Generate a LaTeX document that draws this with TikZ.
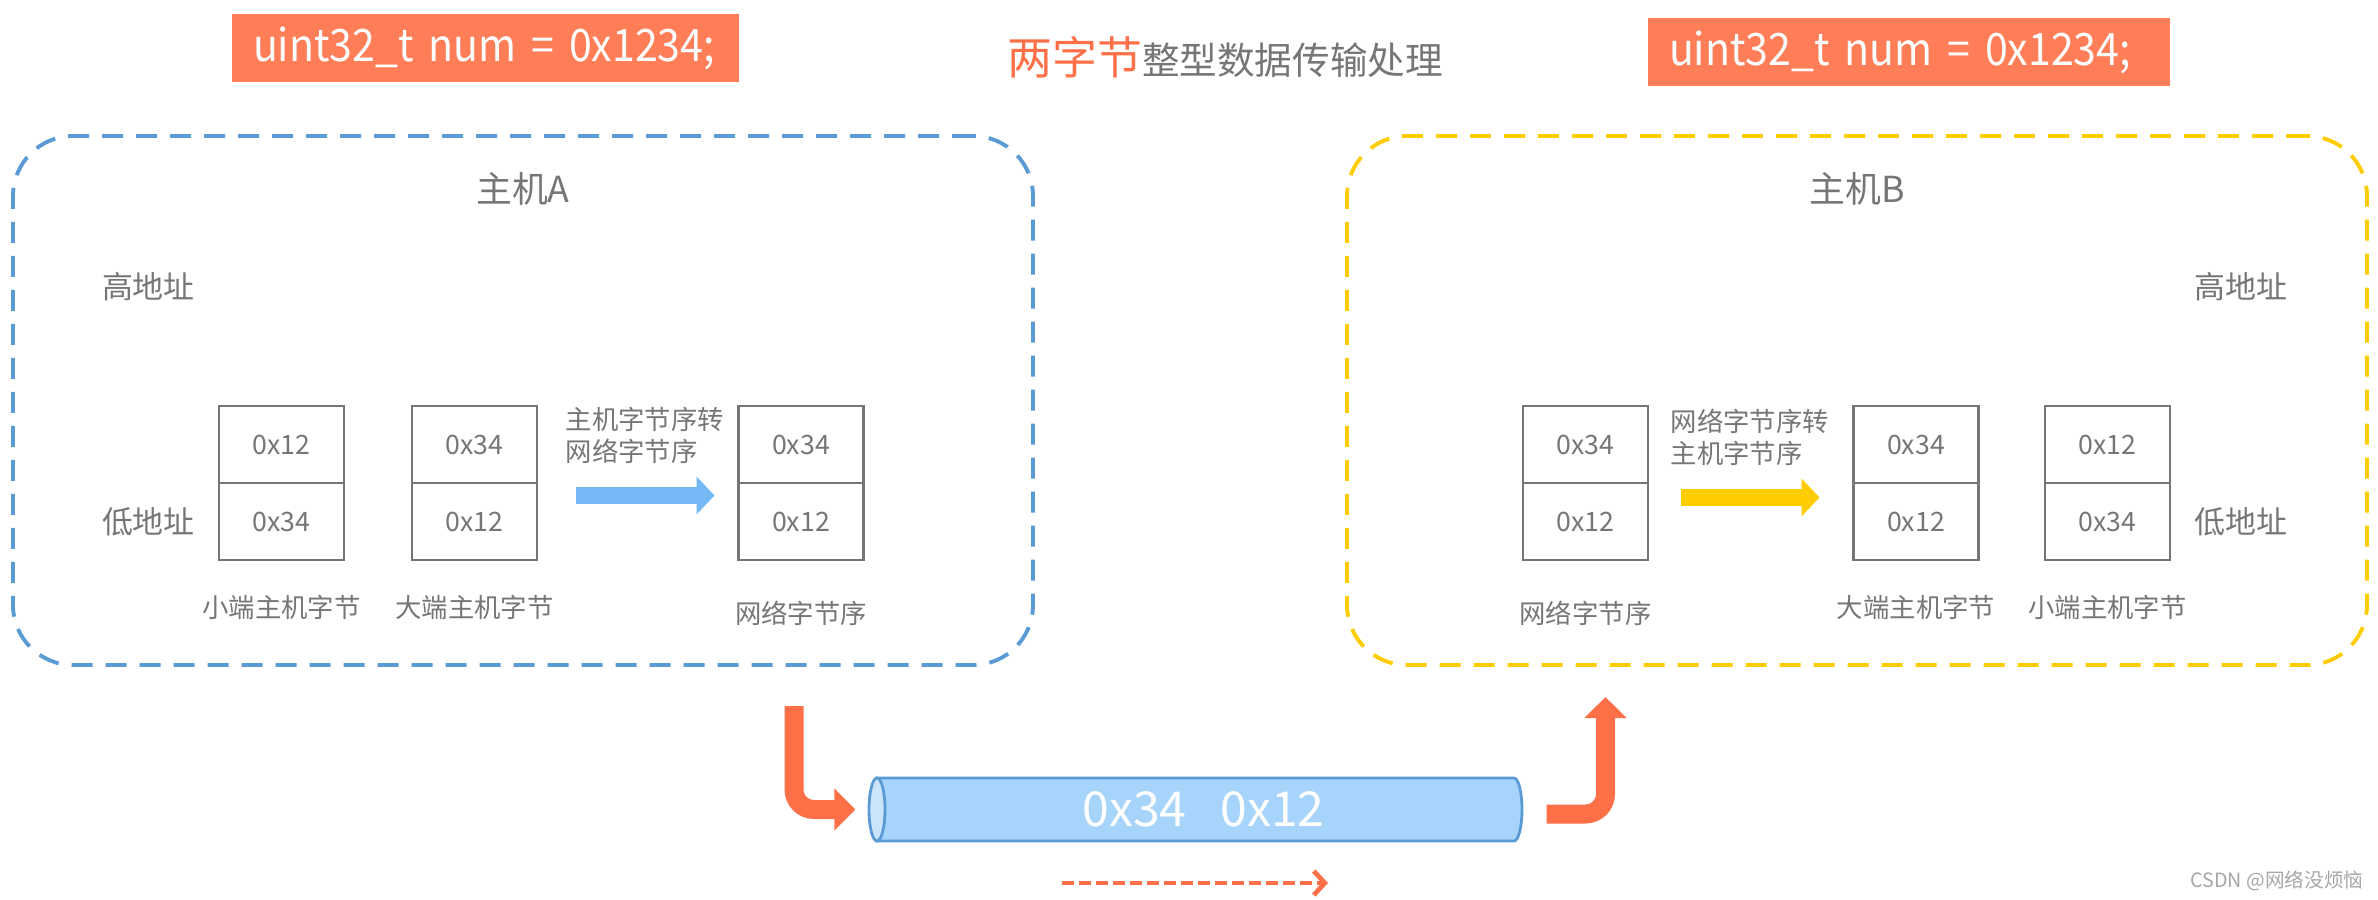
\documentclass[tikz,border=0pt]{standalone}
\usepackage{fontspec}
\setmainfont{Noto Sans CJK SC}
\newfontfamily\codefont[FakeStretch=0.92]{Noto Sans CJK SC}
\usetikzlibrary{positioning,arrows.meta}
\definecolor{codeorange}{RGB}{255,125,87}
\definecolor{arrorange}{RGB}{255,112,72}
\definecolor{hostblue}{RGB}{91,155,213}
\definecolor{hostgold}{RGB}{255,204,0}
\definecolor{convblue}{RGB}{116,185,245}
\definecolor{pipeblue}{RGB}{166,212,250}
\definecolor{pipeend}{RGB}{204,228,250}
\definecolor{txtgray}{RGB}{118,118,118}
\tikzset{
  codebox/.style={fill=codeorange,text=white,font=\codefont\fontsize{12.7pt}{15pt}\selectfont,inner xsep=2.1mm,minimum height=6.8mm,align=left},
  hostbox/.style={dash pattern=on 2.1mm off 1.3mm,line width=1.1pt,rounded corners=6mm,minimum width=102mm,minimum height=52.9mm},
  hostname/.style={text=txtgray,inner sep=0pt,font=\fontsize{10.2pt}{12pt}\selectfont},
  cell/.style={draw=txtgray,line width=0.8pt,minimum width=12.5mm,minimum height=7.7mm,inner sep=0pt,outer sep=0pt,text=txtgray,font=\fontsize{7.6pt}{9pt}\selectfont},
  lbl/.style={text=txtgray,inner sep=0pt,font=\fontsize{7.5pt}{9.1pt}\selectfont},
  addr/.style={text=txtgray,inner sep=0pt,font=\fontsize{8.8pt}{10pt}\selectfont},
  conv/.style={line width=1.7mm,-{Triangle[length=1.8mm,width=3.7mm]}},
  bigarr/.style={arrorange,line width=1.9mm,rounded corners=2mm,-{Triangle[length=2.1mm,width=4.1mm]}}
}
\begin{document}
\begin{tikzpicture}[x=0.1mm,y=-0.1mm]
\useasboundingbox (0,0) rectangle (2378,900);
\node[codebox,text width=46.5mm](codeA)at(485.5,48.5){\mbox{uint32\_t num = 0x1234;}};
\node[codebox,text width=48mm](codeB)at(1909,52.5){\mbox{uint32\_t num = 0x1234;}};
\node[inner sep=0pt](title)at(1225,57){{\color{arrorange}\fontsize{12.8pt}{15pt}\selectfont 两字节}{\color{txtgray}\fontsize{10.7pt}{13pt}\selectfont 整型数据传输处理}};
\node[hostbox,draw=hostblue](hostA)at(523,400.5){};
\node[hostbox,draw=hostgold](hostB)at(1857,400.5){};
\node[hostname,below=3.8mm of hostA.north](hostAname){主机A};
\node[hostname,below=3.8mm of hostB.north](hostBname){主机B};
\foreach \n/\x/\t/\b in {aL/281.5/0x12/0x34,aG/474.5/0x34/0x12,aN/801/0x34/0x12,bN/1585.5/0x34/0x12,bG/1916/0x34/0x12,bL/2107.5/0x12/0x34}{
  \node[cell](\n1)at(\x,444.5){\t};
  \node[cell,below=0pt of \n1](\n2){\b};
}
\node[lbl,below=3.4mm of aL2](aLname){小端主机字节};
\node[lbl,below=3.4mm of aG2](aGname){大端主机字节};
\node[lbl,below=4mm of aN2](aNname){网络字节序};
\node[lbl,below=4mm of bN2](bNname){网络字节序};
\node[lbl,below=3.4mm of bG2](bGname){大端主机字节};
\node[lbl,below=3.4mm of bL2](bLname){小端主机字节};
\node[addr,left=2.35mm of aL2](aLow){低地址};
\node[addr,above=20.5mm of aLow](aHigh){高地址};
\node[addr,right=2.35mm of bL2](bLow){低地址};
\node[addr,above=20.5mm of bLow](bHigh){高地址};
\node[lbl,align=left,anchor=west](aConv)at(565,435){主机字节序转\\网络字节序};
\node[lbl,align=left,anchor=west](bConv)at(1670,437){网络字节序转\\主机字节序};
\draw[conv,convblue,shorten <=3.9mm,shorten >=2.4mm]([yshift=2.6mm]aG2.east)--([yshift=2.6mm]aN2.west);
\draw[conv,hostgold,shorten <=3.3mm,shorten >=3.4mm]([yshift=2.4mm]bN2.east)--([yshift=2.4mm]bG2.west);
\filldraw[fill=pipeblue,draw=hostblue,line width=0.8pt](877,778)--(1514,778)arc[start angle=90,end angle=-90,x radius=0.8mm,y radius=3.15mm]--(877,841)--cycle;
\filldraw[fill=pipeend,draw=hostblue,line width=0.8pt](877,809.5)ellipse[x radius=0.8mm,y radius=3.15mm];
\node[minimum width=65.3mm,minimum height=6.3mm,inner sep=0pt,text=white,font=\fontsize{13.7pt}{16pt}\selectfont](pipe)at(1195.5,809.5){\hspace{1.6mm}0x34\hspace{0.7em}0x12};
\coordinate(sendA)at(794,706);
\coordinate(recvB)at(1605.5,697);
\draw[bigarr,shorten >=1.3mm](sendA)|-(pipe.west);
\draw[bigarr,shorten <=2.4mm]([yshift=-0.45mm]pipe.east)-|(recvB);
\coordinate(flowS)at(1062,883);
\coordinate(flowE)at(1328,883);
\draw[arrorange,line width=0.47mm,dash pattern=on 1.2mm off 0.5mm,-{Straight Barb[length=1.1mm,width=2.4mm]}](flowS)--(flowE);
\node[text=gray!70,inner sep=0pt,font=\fontsize{5.6pt}{7pt}\selectfont](mark)at(2277,881){CSDN @网络没烦恼};
\end{tikzpicture}
\end{document}
